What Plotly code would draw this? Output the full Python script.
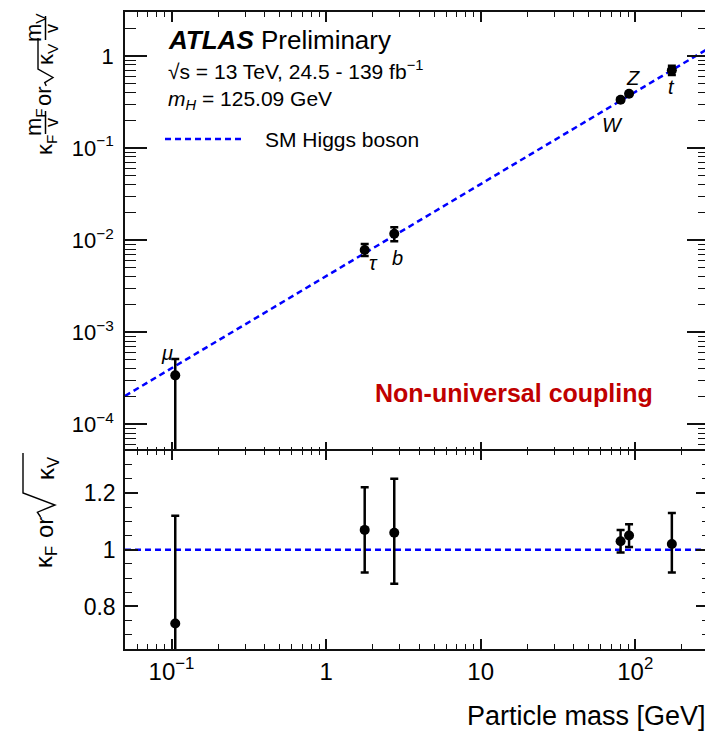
import math
import plotly.graph_objects as go

# ---------------- data ----------------
particles = ["μ", "τ", "b", "W", "Z", "t"]
mass_gev = [0.1057, 1.777, 2.76, 80.38, 91.19, 172.5]
reduced_coupling = [3.4e-4, 7.8e-3, 1.17e-2, 0.335, 0.389, 0.70]
reduced_err_up = [1.7e-4, 1.3e-3, 2.1e-3, 0.013, 0.015, 0.08]
reduced_err_down = [3.35e-4, 1.1e-3, 2.0e-3, 0.013, 0.015, 0.08]
kappa = [0.74, 1.07, 1.06, 1.03, 1.05, 1.02]
kappa_err_up = [0.38, 0.15, 0.19, 0.04, 0.04, 0.11]
kappa_err_down = [0.74, 0.15, 0.18, 0.04, 0.04, 0.10]
sm_line_mass = [0.05, 300]
sm_line_coupling = [2.03e-4, 1.218]
sm_ratio = [1.0, 1.0]
x_tickvals = [0.1, 1, 10, 100]
x_ticktext = ["10<sup>−1</sup>", "1", "10", "10<sup>2</sup>"]
y_tickvals = [1e-4, 1e-3, 1e-2, 1e-1, 1]
y_ticktext = ["10<sup>−4</sup>", "10<sup>−3</sup>", "10<sup>−2</sup>", "10<sup>−1</sup>", "1"]
ratio_tickvals = [0.8, 1.0, 1.2]
ratio_ticktext = ["0.8", "1", "1.2"]

# ---------------- styling ----------------
W, H = 713, 733
S = 8                      # page body margin of the browser
L, R, T, B = 125, 709, 12, 649   # frame in screen pixels
SPLIT = 452
FONT = "Liberation Sans, Arial, Helvetica, sans-serif"
BLUE = "#0000ff"
FRAME = "#111111"
DASH = "6px,4px"
XMIN, XMAX = 0.05, 300
YMIN, YMAX = 5e-5, 3
RMIN, RMAX = 0.65, 1.35


def px(x):
    return (x - L) / (R - L)


def py(y):
    return (B - y) / (B - T)


split_paper = py(SPLIT)
split_lower = py(SPLIT - 1.5)   # let both frame lines fall on one another

fig = go.Figure()

# upper panel
fig.add_trace(go.Scatter(x=sm_line_mass, y=sm_line_coupling, mode="lines",
                         line=dict(color=BLUE, width=2.5, dash=DASH),
                         xaxis="x", yaxis="y", hoverinfo="skip"))
fig.add_trace(go.Scatter(
    x=mass_gev, y=reduced_coupling, mode="markers",
    marker=dict(color="black", size=10),
    error_y=dict(type="data", symmetric=False, array=reduced_err_up,
                 arrayminus=reduced_err_down, color="black", thickness=2.5, width=4),
    xaxis="x", yaxis="y"))

# lower panel
fig.add_trace(go.Scatter(x=sm_line_mass, y=sm_ratio, mode="lines",
                         line=dict(color=BLUE, width=2.5, dash=DASH),
                         xaxis="x2", yaxis="y2", hoverinfo="skip"))
fig.add_trace(go.Scatter(
    x=mass_gev, y=kappa, mode="markers",
    marker=dict(color="black", size=10),
    error_y=dict(type="data", symmetric=False, array=kappa_err_up,
                 arrayminus=kappa_err_down, color="black", thickness=2.5, width=4),
    xaxis="x2", yaxis="y2"))

xrange = [math.log10(XMIN), math.log10(XMAX)]


def axis(size, ticklen, minor, **kw):
    d = dict(showline=True, linecolor=FRAME, linewidth=1.5, mirror="ticks",
             ticks="inside", ticklen=ticklen, tickwidth=1.5, tickcolor=FRAME,
             showgrid=False, zeroline=False, layer="above traces",
             tickfont=dict(family=FONT, size=size, color="black"),
             minor=dict(ticks="inside", tickcolor=FRAME, tickwidth=1.2,
                        showgrid=False, **minor))
    d.update(kw)
    return d


log_minor = dict(ticklen=5, dtick="D1")
fig.update_layout(
    width=W, height=H,
    margin=dict(l=L - S, r=W - (R - S), t=T - S, b=H - (B - S), autoexpand=False),
    paper_bgcolor="white", plot_bgcolor="white",
    showlegend=False,
    xaxis=axis(24, 10, log_minor, type="log", range=xrange, domain=[0, 1],
               anchor="y", tickvals=x_tickvals, ticktext=x_ticktext,
               showticklabels=False),
    yaxis=axis(22, 22, dict(ticklen=11, dtick="D1"), type="log",
               range=[math.log10(YMIN), math.log10(YMAX)],
               domain=[split_paper, 1], anchor="x",
               tickvals=y_tickvals, ticktext=y_ticktext, ticklabelstandoff=5),
    xaxis2=axis(24, 10, log_minor, type="log", range=xrange, domain=[0, 1],
                anchor="y2", tickvals=x_tickvals, ticktext=x_ticktext,
                ticklabelstandoff=0),
    yaxis2=axis(23, 13, dict(ticklen=7, tickmode="linear", tick0=0, dtick=0.05),
                range=[RMIN, RMAX], domain=[0, split_lower], anchor="x2",
                tickvals=ratio_tickvals, ticktext=ratio_ticktext, ticklabelstandoff=3),
)

ann = []
shapes = []


def text(xp, yp, s, size, anchor="left", angle=0, color="black", yanchor="middle"):
    ann.append(dict(x=px(xp), y=py(yp), xref="paper", yref="paper", text=s,
                    showarrow=False, xanchor=anchor, yanchor=yanchor, textangle=angle,
                    font=dict(family=FONT, size=size, color=color)))


def vline(xp, y0, y1, width=1.5, color="black"):
    shapes.append(dict(type="line", xref="paper", yref="paper",
                       x0=px(xp), x1=px(xp), y0=py(y0), y1=py(y1),
                       line=dict(color=color, width=width)))


def radical(x_base, y_start, h, w, y_end, width=1.4):
    """Rotated (-90 deg) square-root sign: baseline at screen x=x_base."""
    pts = [(x_base - 0.45 * h, y_start), (x_base - 0.55 * h, y_start - 0.2 * w),
           (x_base, y_start - 0.5 * w), (x_base - h, y_start - w), (x_base - h, y_end)]
    path = "M " + " L ".join(f"{px(a)},{py(b)}" for a, b in pts)
    shapes.append(dict(type="path", xref="paper", yref="paper", path=path,
                       line=dict(color="black", width=width)))


# header text
text(166, 40, "<b><i>ATLAS</i></b> Preliminary", 26)
text(166, 70, "√s = 13 TeV, 24.5 - 139 fb<sup>−1</sup>", 21)
text(166, 100, "<i>m</i><sub><i>H</i></sub> = 125.09 GeV", 21)
shapes.append(dict(type="line", xref="paper", yref="paper",
                   x0=px(165), x1=px(244), y0=py(139), y1=py(139),
                   line=dict(color=BLUE, width=2.5, dash=DASH)))
text(263, 139, "SM Higgs boson", 21)
text(514, 393, "<b>Non-universal coupling</b>", 25, anchor="center", color="#c00000")

# particle labels (offsets in pixels from each point)
label_shift = {"μ": (-8, 22), "τ": (9, -13), "b": (3, -24),
               "W": (-8, -25), "Z": (4, 16), "t": (0, -17)}
for name, m, v in zip(particles, mass_gev, reduced_coupling):
    dx, dy = label_shift[name]
    ann.append(dict(x=math.log10(m), y=math.log10(v), xref="x", yref="y",
                    text=f"<i>{name}</i>", showarrow=False, xshift=dx, yshift=dy,
                    font=dict(family=FONT, size=20, color="black")))

# upper y-axis title: kF mF/v or sqrt(kV) mV/v (rotated)
text(46, 145, "κ<sub>F</sub>", 22, anchor="center", angle=-90)
text(35, 122, "m<sub>F</sub>", 22, anchor="center", angle=-90)
vline(45.5, 111, 134)
text(52, 123, "v", 18, anchor="center", angle=-90)
text(44, 96, "or", 22, anchor="center", angle=-90)
radical(53, 86, 15, 17, 38)
text(47, 54, "κ<sub>V</sub>", 22, anchor="center", angle=-90)
text(35, 28, "m<sub>V</sub>", 22, anchor="center", angle=-90)
vline(45.5, 16, 40)
text(52, 29, "v", 18, anchor="center", angle=-90)

# lower y-axis title: kF or sqrt(kV)
text(45, 557, "κ<sub>F</sub>", 24, anchor="center", angle=-90)
text(44, 528, "or", 24, anchor="center", angle=-90)
radical(55, 517, 32, 24, 453)
text(47, 468, "κ<sub>V</sub>", 24, anchor="center", angle=-90)

# x-axis title
text(708, 716, "Particle mass [GeV]", 27, anchor="right")

fig.update_layout(annotations=ann, shapes=shapes)
fig.write_html("out.html")
